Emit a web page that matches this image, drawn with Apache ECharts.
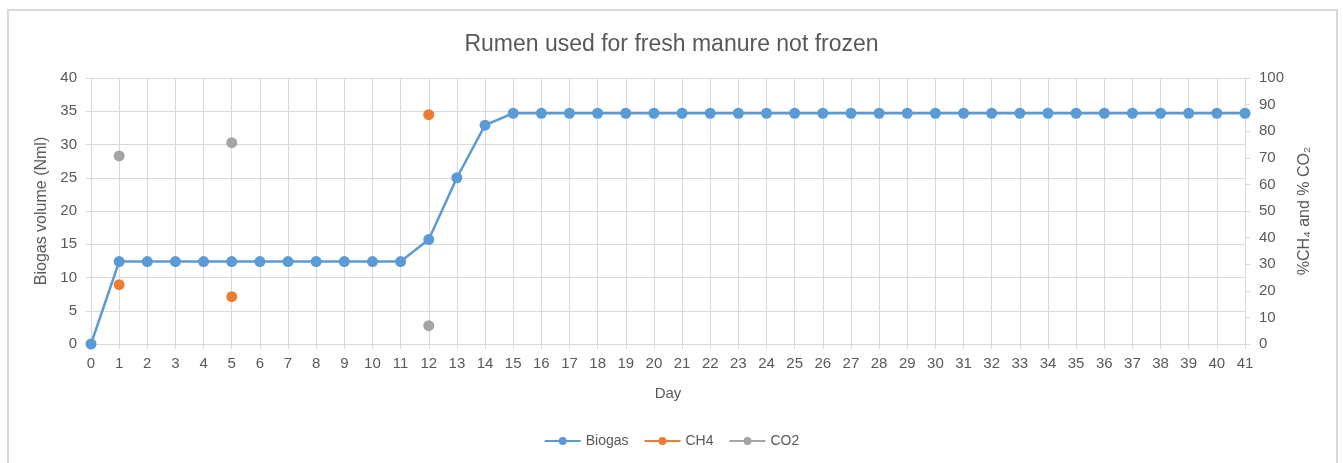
<!DOCTYPE html>
<html><head><meta charset="utf-8">
<script src="https://cdn.jsdelivr.net/npm/echarts@6/dist/echarts.min.js"></script>
<style>
html,body{margin:0;padding:0;background:#fff;}
#frame{position:absolute;left:7px;top:9px;width:1331px;height:470px;border:2px solid #d9d9d9;border-bottom:none;box-sizing:border-box;}
#c{position:absolute;left:0;top:0;width:1343px;height:463px;}
</style></head>
<body>
<div id="frame"></div>
<div id="c"></div>
<script>
const days = ['0','1','2','3','4','5','6','7','8','9','10','11','12','13','14','15','16','17','18','19','20','21','22','23','24','25','26','27','28','29','30','31','32','33','34','35','36','37','38','39','40','41'];
const biogas = [0,12.4,12.4,12.4,12.4,12.4,12.4,12.4,12.4,12.4,12.4,12.4,15.7,25,32.9,34.7,34.7,34.7,34.7,34.7,34.7,34.7,34.7,34.7,34.7,34.7,34.7,34.7,34.7,34.7,34.7,34.7,34.7,34.7,34.7,34.7,34.7,34.7,34.7,34.7,34.7,34.7];
const ch4Days = [1,5,12];
const ch4Vals = [22.3,17.8,86.2];
const co2Days = [1,5,12];
const co2Vals = [70.7,75.7,6.9];

function sparse(ds, vs){
  const a = days.map(()=>null);
  ds.forEach((d,i)=>{ a[d] = vs[i]; });
  return a;
}

const font = 'Liberation Sans';
const txt = '#595959';
const chart = echarts.init(document.getElementById('c'));
chart.setOption({
  animation:false,
  textStyle:{fontFamily:font},
  title:{text:'Rumen used for fresh manure not frozen',left:'center',top:28,
    textStyle:{fontSize:23,fontWeight:'normal',color:txt,fontFamily:font}},
  grid:{left:91,right:98,top:78,bottom:119},
  legend:{bottom:10,left:'center',itemWidth:36,itemHeight:10,itemGap:15,
    textStyle:{fontSize:14,color:txt,fontFamily:font},
    data:['Biogas','CH4','CO2']},
  xAxis:{type:'category',data:days,boundaryGap:false,
    name:'Day',nameLocation:'middle',nameGap:42,
    nameTextStyle:{fontSize:15,color:txt},
    axisLine:{lineStyle:{color:'#d9d9d9',width:1}},
    axisTick:{show:true,interval:0,length:5,lineStyle:{color:'#d9d9d9'}},
    axisLabel:{interval:0,fontSize:15,color:txt,margin:12},
    splitLine:{show:true,interval:0,lineStyle:{color:'#d9d9d9'}}},
  yAxis:[
    {type:'value',min:0,max:40,interval:5,
     name:'Biogas volume (Nml)',nameLocation:'middle',nameGap:32,
     nameTextStyle:{fontSize:16,color:txt},
     axisLine:{show:true,lineStyle:{color:'#d9d9d9'}},
     axisTick:{show:true,length:5,lineStyle:{color:'#d9d9d9'}},
     axisLabel:{fontSize:15,color:txt,margin:14},
     splitLine:{show:true,lineStyle:{color:'#d9d9d9'}}},
    {type:'value',min:0,max:100,interval:10,position:'right',
     name:'%CH₄ and % CO₂',nameLocation:'middle',nameGap:52,nameRotate:90,
     nameTextStyle:{fontSize:16,color:txt},
     axisLine:{show:true,lineStyle:{color:'#d9d9d9'}},
     axisTick:{show:true,length:5,lineStyle:{color:'#d9d9d9'}},
     axisLabel:{fontSize:15,color:txt,margin:14},
     splitLine:{show:false}}
  ],
  series:[
    {name:'Biogas',type:'line',data:biogas,yAxisIndex:0,symbol:'circle',symbolSize:11,
     itemStyle:{color:'#5B9BD5'},lineStyle:{color:'#5B9BD5',width:2.5}},
    {name:'CH4',type:'line',data:sparse(ch4Days,ch4Vals),yAxisIndex:1,symbol:'circle',symbolSize:11,
     connectNulls:false,itemStyle:{color:'#ED7D31'},lineStyle:{color:'#ED7D31',width:2.5}},
    {name:'CO2',type:'line',data:sparse(co2Days,co2Vals),yAxisIndex:1,symbol:'circle',symbolSize:11,
     connectNulls:false,itemStyle:{color:'#A5A5A5'},lineStyle:{color:'#A5A5A5',width:2.5}}
  ]
});
</script>
</body></html>
